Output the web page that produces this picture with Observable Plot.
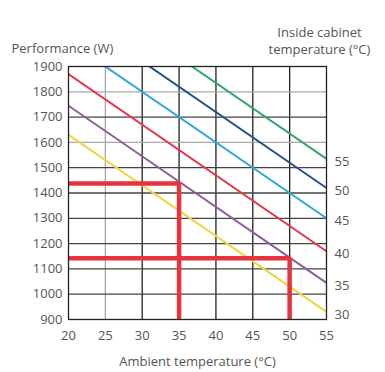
<!DOCTYPE html>
<html>
<head>
<meta charset="utf-8">
<script src="https://cdn.jsdelivr.net/npm/d3@7"></script>
<script src="https://cdn.jsdelivr.net/npm/@observablehq/plot@0.6"></script>
<style>
  html, body { margin: 0; padding: 0; background: #fff; }
  #chart { width: 385px; height: 372px; }
</style>
</head>
<body>
<div id="chart"></div>
<script>
// Data
const ambientTicks = [20, 25, 30, 35, 40, 45, 50, 55];
const perfTicks = [900, 1000, 1100, 1200, 1300, 1400, 1500, 1600, 1700, 1800, 1900];
const cabinetTemps = [30, 35, 40, 45, 50, 55];
const perfAtAmbient20 = [1630, 1745, 1870, 2000, 2120, 2235];
const perfAtAmbient55 = [930, 1045, 1170, 1300, 1420, 1535];
const exampleAmbient = [35, 50];
const examplePerf = [1438, 1142];

const curves = cabinetTemps.flatMap((t, i) => [
  {cabinet: t, ambient: 20, perf: perfAtAmbient20[i]},
  {cabinet: t, ambient: 55, perf: perfAtAmbient55[i]}
]);
const labels = cabinetTemps.map((t, i) => ({cabinet: t, ambient: 55, perf: perfAtAmbient55[i]}));
const guides = exampleAmbient.flatMap((a, i) => [
  {id: i, ambient: 20, perf: examplePerf[i]},
  {id: i, ambient: a, perf: examplePerf[i]},
  {id: i, ambient: a, perf: 900}
]);

const colorMap = {30: "#efd544", 35: "#8d5f98", 40: "#e2384c", 45: "#2ca9d6", 50: "#27508e", 55: "#34a86b"};
const font = "'Open Sans', Lato, sans-serif";
const txt = "#555";

const chart = Plot.plot({
  width: 385,
  height: 372,
  marginLeft: 68,
  marginRight: 59,
  marginTop: 66,
  marginBottom: 53,
  style: {fontFamily: font, fontSize: "13px", color: txt, background: "#fff"},
  x: {domain: [20, 55], ticks: ambientTicks, tickSize: 0, tickPadding: 11, tickFormat: "d", label: null},
  y: {domain: [900, 1900], ticks: perfTicks, tickSize: 0, tickPadding: 6, tickFormat: "d", label: null},
  marks: [
    Plot.ruleX(ambientTicks.slice(1, -1), {stroke: d => d === 25 ? "#a8a8a8" : "#222", strokeWidth: 1.3}),
    Plot.ruleY(perfTicks.slice(1, -1), {stroke: d => (d === 1800 || d === 1600) ? "#a8a8a8" : "#444", strokeWidth: 1.3}),
    Plot.line(curves, {x: "ambient", y: "perf", z: "cabinet", stroke: d => colorMap[d.cabinet], strokeWidth: 2, clip: true}),
    Plot.line(guides, {x: "ambient", y: "perf", z: "id", stroke: "#e5343c", strokeWidth: 4.5, strokeLinejoin: "miter", strokeLinecap: "butt", clip: true}),
    Plot.frame({stroke: "#222", strokeWidth: 1.3}),
    Plot.text(labels, {x: "ambient", y: "perf", text: d => String(d.cabinet), dx: 8, dy: 3, textAnchor: "start", fill: txt}),
    Plot.text(["Performance (W)"], {frameAnchor: "top-left", dx: -57, dy: -23, textAnchor: "start", fill: txt}),
    Plot.text(["Inside cabinet"], {frameAnchor: "top-right", dx: -7, dy: -39, textAnchor: "middle", fill: txt}),
    Plot.text(["temperature (°C)"], {frameAnchor: "top-right", dx: -7, dy: -22, textAnchor: "middle", fill: txt}),
    Plot.text(["Ambient temperature (°C)"], {frameAnchor: "bottom", dy: 46, textAnchor: "middle", fill: txt})
  ]
});
document.getElementById("chart").appendChild(chart);
</script>
</body>
</html>
